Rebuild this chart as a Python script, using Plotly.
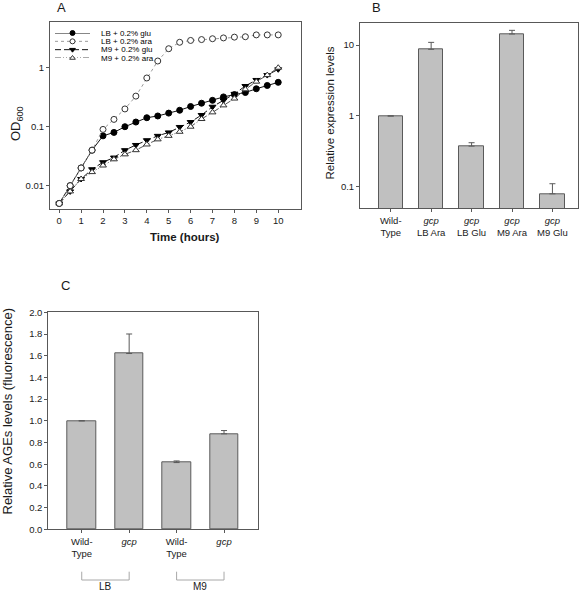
import plotly.graph_objects as go

W, H = 584, 593

# ---------------- Data ----------------
time_h = [0, 0.5, 1, 1.5, 2, 2.5, 3, 3.5, 4, 4.5, 5, 5.5, 6, 6.5, 7, 7.5, 8, 8.5, 9, 9.5, 10]
lb_glu = [0.005, 0.01, 0.02, 0.04, 0.07, 0.08, 0.1, 0.12, 0.142, 0.152, 0.17, 0.19, 0.22, 0.25,
          0.28, 0.32, 0.35, 0.38, 0.44, 0.5, 0.565]
lb_ara = [0.005, 0.01, 0.02, 0.04, 0.09, 0.133, 0.2, 0.33, 0.67, 1.3, 2.1, 2.7, 2.9, 3.0,
          3.1, 3.2, 3.3, 3.35, 3.6, 3.6, 3.6]
m9_glu = [0.005, 0.008, 0.013, 0.019, 0.025, 0.03, 0.04, 0.049, 0.059, 0.07, 0.08, 0.099, 0.12,
          0.158, 0.218, 0.28, 0.36, 0.49, 0.62, 0.75, 0.94]
m9_ara = [0.005, 0.008, 0.013, 0.017, 0.022, 0.028, 0.034, 0.04, 0.05, 0.061, 0.07, 0.082, 0.1,
          0.135, 0.175, 0.23, 0.3, 0.43, 0.58, 0.75, 1.0]
series_names = ["LB + 0.2% glu", "LB + 0.2% ara", "M9 + 0.2% glu", "M9 + 0.2% ara"]

expr_labels = ["Wild-<br>Type", "<i>gcp</i><br>LB Ara", "<i>gcp</i><br>LB Glu",
               "<i>gcp</i><br>M9 Ara", "<i>gcp</i><br>M9 Glu"]
expr_values = [1.0, 8.7, 0.376, 14.3, 0.08]
expr_err = [0.0, 2.2, 0.044, 1.8, 0.031]

ages_labels = ["Wild-<br>Type", "<i>gcp</i>", "Wild-<br>Type", "<i>gcp</i>"]
ages_values = [1.0, 1.62, 0.615, 0.88]
ages_err = [0.0, 0.18, 0.015, 0.03]
groups = [("LB", 0, 1), ("M9", 2, 3)]

# ---------------- Styles ----------------
FONT = "Liberation Sans, Arial, sans-serif"
AX = "#585858"
TXT = "#1a1a1a"
BAR_FILL = "#c0c0c0"
BAR_LINE = "#5a5a5a"

def px_x(p):
    return p / W

def px_y(p):
    return 1 - p / H

styles = [
    dict(line=dict(color="#111111", width=1, dash="solid"),
         marker=dict(symbol="circle", size=6, color="#000000", line=dict(color="#000000", width=1))),
    dict(line=dict(color="#9a9a9a", width=1, dash="dot"),
         marker=dict(symbol="circle", size=6, color="#ffffff", line=dict(color="#333333", width=1))),
    dict(line=dict(color="#111111", width=1, dash="6px,3px"),
         marker=dict(symbol="triangle-down", size=6, color="#000000", line=dict(color="#000000", width=1))),
    dict(line=dict(color="#555555", width=1, dash="6px,2px,1px,2px,1px,2px"),
         marker=dict(symbol="triangle-up", size=6, color="#ffffff", line=dict(color="#333333", width=1))),
]
ys = [lb_glu, lb_ara, m9_glu, m9_ara]
draw_order = [0, 2, 3, 1]

fig = go.Figure()

# Panel A lines
for i in draw_order:
    fig.add_trace(go.Scatter(x=time_h, y=ys[i], mode="lines+markers", name=series_names[i],
                             line=styles[i]["line"], marker=styles[i]["marker"],
                             xaxis="x", yaxis="y", showlegend=False, cliponaxis=False))

# Manual compact legend for panel A (on an auxiliary axis)
for r in range(4):
    m = dict(styles[r]["marker"])
    m["size"] = 5
    fig.add_trace(go.Scatter(x=[0, 1], y=[r, r], mode="lines", line=styles[r]["line"],
                             xaxis="x4", yaxis="y4", showlegend=False, cliponaxis=False,
                             hoverinfo="skip"))
    fig.add_trace(go.Scatter(x=[0.5], y=[r], mode="markers", marker=m,
                             xaxis="x4", yaxis="y4", showlegend=False, cliponaxis=False,
                             hoverinfo="skip"))

# Panel B bars
fig.add_trace(go.Bar(x=list(range(len(expr_values))), y=expr_values, width=0.6,
                     marker=dict(color=BAR_FILL, line=dict(color=BAR_LINE, width=1)),
                     error_y=dict(type="data", symmetric=False, array=expr_err,
                                  arrayminus=[0] * len(expr_err), color=BAR_LINE,
                                  thickness=1, width=3),
                     xaxis="x2", yaxis="y2", showlegend=False))

# Panel C bars
fig.add_trace(go.Bar(x=list(range(len(ages_values))), y=ages_values, width=0.6,
                     marker=dict(color=BAR_FILL, line=dict(color=BAR_LINE, width=1)),
                     error_y=dict(type="data", symmetric=False, array=ages_err,
                                  arrayminus=[0] * len(ages_err), color=BAR_LINE,
                                  thickness=1, width=3),
                     xaxis="x3", yaxis="y3", showlegend=False))

axis_common = dict(showline=True, linecolor=AX, linewidth=1, mirror=True, ticks="outside",
                   ticklen=3, tickcolor=AX, tickwidth=1, showgrid=False, zeroline=False,
                   automargin=False, tickfont=dict(family=FONT, size=9.5, color=TXT))

fig.update_layout(
    template="none",
    width=W, height=H, margin=dict(l=0, r=0, t=0, b=0, pad=0, autoexpand=False),
    paper_bgcolor="white", plot_bgcolor="white",
    font=dict(family=FONT, color=TXT),
    showlegend=False,
    bargap=0,
    xaxis=dict(domain=[px_x(50), px_x(301)], range=[-0.42, 11.04], tickvals=list(range(11)),
               anchor="y", **axis_common),
    yaxis=dict(domain=[px_y(209), px_y(22)], type="log", range=[-2.395, 0.775],
               tickvals=[0.01, 0.1, 1], ticktext=["0.01", "0.1", "1"], anchor="x", **axis_common),
    xaxis2=dict(domain=[px_x(360), px_x(578.3)], range=[-0.76, 4.64],
                tickvals=list(range(len(expr_labels))), ticktext=expr_labels, anchor="y2",
                **axis_common),
    yaxis2=dict(domain=[px_y(208.3), px_y(23.3)], type="log", range=[-1.301, 1.306],
                tickvals=[0.1, 1, 10], ticktext=["0.1", "1", "10"], anchor="x2", **axis_common),
    xaxis3=dict(domain=[px_x(48.3), px_x(257.7)], range=[-0.705, 3.71],
                tickvals=list(range(len(ages_labels))), ticktext=ages_labels, anchor="y3",
                **axis_common),
    yaxis3=dict(domain=[px_y(529.3), px_y(312.3)], range=[0, 2.0],
                tickvals=[0, 0.2, 0.4, 0.6, 0.8, 1.0, 1.2, 1.4, 1.6, 1.8, 2.0],
                tickformat=".1f", anchor="x3", **axis_common),
    xaxis4=dict(domain=[px_x(55), px_x(90)], range=[0, 1], visible=False, anchor="y4",
                automargin=False),
    yaxis4=dict(domain=[px_y(58), px_y(33)], range=[3, 0], visible=False, anchor="x4",
                automargin=False),
)

ann = []
# legend texts
for r in range(4):
    ann.append(dict(text=series_names[r], xref="paper", yref="y4", x=px_x(99), y=r,
                    xanchor="left", yanchor="middle", showarrow=False,
                    font=dict(family=FONT, size=8, color="#000000")))
# panel letters
for letter, x, y in [("A", 61.7, 7), ("B", 376, 7), ("C", 65, 285)]:
    ann.append(dict(text=letter, xref="paper", yref="paper", x=px_x(x), y=px_y(y),
                    xanchor="center", yanchor="middle", showarrow=False,
                    font=dict(family=FONT, size=13, color=TXT)))
# axis titles
ann.append(dict(text="OD<sub>600</sub>", xref="paper", yref="paper", x=px_x(16), y=px_y(124),
                textangle=-90, xanchor="center", yanchor="middle", showarrow=False,
                font=dict(family=FONT, size=13, color=TXT)))
ann.append(dict(text="<b>Time (hours)</b>", xref="paper", yref="paper", x=px_x(185), y=px_y(237),
                xanchor="center", yanchor="middle", showarrow=False,
                font=dict(family=FONT, size=11.5, color=TXT)))
ann.append(dict(text="Relative expression levels", xref="paper", yref="paper", x=px_x(330),
                y=px_y(113.5), textangle=-90, xanchor="center", yanchor="middle",
                showarrow=False, font=dict(family=FONT, size=11.5, color=TXT)))
ann.append(dict(text="Relative AGEs levels (fluorescence)", xref="paper", yref="paper",
                x=px_x(7), y=px_y(411.5), textangle=-90, xanchor="center", yanchor="middle",
                showarrow=False, font=dict(family=FONT, size=13, color=TXT)))

shapes = []
for name, a, b in groups:
    shapes.append(dict(type="path", xref="x3", yref="paper",
                       path=f"M {a} {px_y(571.7)} L {a} {px_y(580)} L {b} {px_y(580)} L {b} {px_y(571.7)}",
                       line=dict(color="#a8a8a8", width=1)))
    ann.append(dict(text=name, xref="x3", yref="paper", x=(a + b) / 2, y=px_y(586),
                    xanchor="center", yanchor="middle", showarrow=False,
                    font=dict(family=FONT, size=10, color=TXT)))

fig.update_layout(annotations=ann, shapes=shapes)
fig.write_html("out.html", config={"displayModeBar": False},
               post_script="document.body.style.margin='0px';document.body.style.overflow='hidden';")
